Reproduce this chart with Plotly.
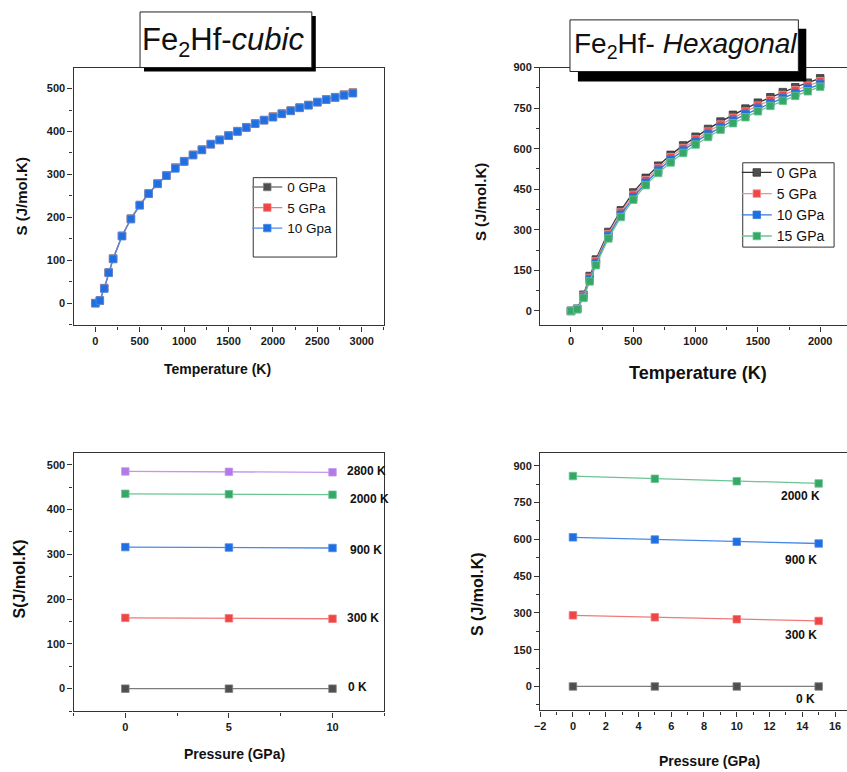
import plotly.graph_objects as go

W, H = 847, 772

# ---------------- data ----------------
T_cubic = [0, 50, 100, 150, 200, 300, 400, 500, 600, 700, 800, 900, 1000, 1100, 1200, 1300,
           1400, 1500, 1600, 1700, 1800, 1900, 2000, 2100, 2200, 2300, 2400, 2500, 2600, 2700, 2800, 2900]
S_cubic_0 = [0, 6, 35, 72, 104, 157, 197, 229, 256, 279, 298, 316, 331, 346, 358, 371,
             381, 391, 401, 410, 419, 427, 435, 442, 449, 456, 462, 469, 475, 480, 486, 491]
S_cubic_5 = [0, 6, 35, 71, 103, 157, 196, 228, 255, 278, 297, 315, 330, 345, 357, 370,
             380, 390, 400, 409, 418, 426, 434, 441, 448, 455, 461, 468, 474, 479, 485, 490]
S_cubic_10 = [0, 6, 34, 71, 103, 156, 196, 228, 255, 278, 297, 314, 330, 345, 357, 370,
              380, 390, 400, 409, 418, 426, 433, 441, 448, 455, 461, 468, 474, 479, 484, 489]
cubic_labels = ["0 GPa", "5 GPa", "10 Gpa"]

T_hex = [0, 50, 100, 150, 200, 300, 400, 500, 600, 700, 800, 900, 1000, 1100, 1200, 1300,
         1400, 1500, 1600, 1700, 1800, 1900, 2000]
S_hex_0 = [0, 8, 60, 129, 190, 292, 372, 438, 492, 537, 577, 612, 644, 673, 700, 725,
           748, 770, 790, 809, 827, 844, 860]
S_hex_5 = [0, 7, 56, 122, 183, 284, 364, 429, 483, 528, 568, 602, 634, 663, 689, 714,
           737, 759, 779, 798, 816, 833, 849]
S_hex_10 = [0, 7, 52, 116, 176, 276, 356, 420, 474, 519, 559, 593, 625, 653, 680, 704,
            727, 748, 768, 787, 805, 822, 838]
S_hex_15 = [0, 6, 48, 109, 169, 268, 347, 411, 465, 510, 549, 584, 615, 643, 670, 694,
            716, 738, 758, 777, 795, 812, 829]
hex_labels = ["0 GPa", "5 GPa", "10 GPa", "15 GPa"]

P_cubic = [0, 5, 10]
S_cub_0K = [0, 0, 0]
S_cub_300K = [158, 157, 156]
S_cub_900K = [316, 315, 314]
S_cub_2000K = [435, 434, 433]
S_cub_2800K = [485, 484, 483]
cub_T_labels = ["0 K", "300 K", "900 K", "2000 K", "2800 K"]

P_hex = [0, 5, 10, 15]
S_hex_0K = [0, 0, 0, 0]
S_hex_300K = [290, 282, 274, 267]
S_hex_900K = [608, 599, 590, 583]
S_hex_2000K = [858, 847, 837, 828]
hex_T_labels = ["0 K", "300 K", "900 K", "2000 K"]

# ---------------- styles ----------------
GRAY = ("#4f4f4f", "#7d7d7d")
RED = ("#f04545", "#f07878")
BLUE = ("#1f6fe0", "#4a8ae6")
GREEN = ("#36a866", "#6cc494")
PURPLE = ("#b27ae6", "#c496ee")

FONT = "Liberation Sans, Arial, sans-serif"


def px(x):
    return x / W


def py(y):
    return 1 - y / H


def trace(x, y, col, name, xa, ya, legend=None, show=False, lcol=None):
    mc, lc = col
    if lcol:
        lc = lcol
    return go.Scatter(
        x=x, y=y, name=name, mode="lines+markers",
        line=dict(color=lc, width=1.3),
        marker=dict(symbol="square", size=7.5, color=mc, line=dict(color=lc, width=0.8)),
        xaxis=xa, yaxis=ya, showlegend=show, legend=legend,
    )


fig = go.Figure()
# top-left cubic
for s, c, n in zip([S_cubic_0, S_cubic_5, S_cubic_10], [GRAY, RED, BLUE], cubic_labels):
    fig.add_trace(trace(T_cubic, s, c, n, "x", "y", legend="legend", show=True))
# top-right hexagonal
for s, c, n, lc in zip([S_hex_0, S_hex_5, S_hex_10, S_hex_15], [GRAY, RED, BLUE, GREEN], hex_labels,
                       ["#333333", "#f29090", "#2f78e0", "#6cc494"]):
    fig.add_trace(trace(T_hex, s, c, n, "x2", "y2", legend="legend2", show=True, lcol=lc))
# bottom-left
for s, c, n in zip([S_cub_0K, S_cub_300K, S_cub_900K, S_cub_2000K, S_cub_2800K],
                   [GRAY, RED, BLUE, GREEN, PURPLE], cub_T_labels):
    fig.add_trace(trace(P_cubic, s, c, n, "x3", "y3"))
# bottom-right
for s, c, n in zip([S_hex_0K, S_hex_300K, S_hex_900K, S_hex_2000K], [GRAY, RED, BLUE, GREEN], hex_T_labels):
    fig.add_trace(trace(P_hex, s, c, n, "x4", "y4"))

tickfont = dict(family=FONT, size=11, color="#1a1a1a", weight="bold")


def axis(domain, rng, dtick, mdtick, anchor, mirror=True):
    return dict(
        domain=domain, range=rng, dtick=dtick, tick0=0, anchor=anchor,
        showline=True, mirror=mirror, linecolor="#333333", linewidth=1.3,
        ticks="outside", ticklen=5, tickwidth=1, tickcolor="#333333",
        minor=dict(dtick=mdtick, tick0=0, ticks="outside", ticklen=3, tickcolor="#333333"),
        showgrid=False, zeroline=False, tickfont=tickfont, fixedrange=True,
    )


xL = [px(68), px(381)]
xR = [px(538), 1.0]
yT = [py(322), py(62)]
yB1 = [py(711), py(451)]
yB2 = [py(710), py(451)]

fig.update_layout(
    width=W, height=H, margin=dict(l=0, r=0, t=0, b=0),
    paper_bgcolor="white", plot_bgcolor="white",
    xaxis=axis(xL, [-246, 3254], 500, 250, "y"),
    yaxis=axis(yT, [-52, 549], 100, 50, "x"),
    xaxis2=axis(xR, [-247, 2215], 500, 250, "y2"),
    yaxis2=axis(yT, [-54, 900], 150, 75, "x2", mirror=False),
    xaxis3=axis(xL, [-2.5, 12.5], 5, 2.5, "y3"),
    yaxis3=axis(yB1, [-51, 525], 100, 50, "x3"),
    xaxis4=axis(xR, [-2, 16.73], 2, 1, "y4"),
    yaxis4=axis(yB2, [-98, 950], 150, 75, "x4", mirror=False),
    legend=dict(x=px(243), y=py(167), xanchor="left", yanchor="top",
                bgcolor="rgba(0,0,0,0)", borderwidth=0,
                font=dict(family=FONT, size=13.5, color="#111"), itemwidth=30,
                tracegroupgap=0),
    legend2=dict(x=px(736), y=py(152), xanchor="left", yanchor="top",
                 bgcolor="rgba(0,0,0,0)", borderwidth=0,
                 font=dict(family=FONT, size=14, color="#111"), itemwidth=30,
                 tracegroupgap=0),
    showlegend=True,
)

# title boxes (shadow + box) and legend frames
shapes = [
    dict(type="rect", xref="paper", yref="paper", x0=px(139), x1=px(312), y0=py(66), y1=py(10),
         fillcolor="black", line=dict(width=0)),
    dict(type="rect", xref="paper", yref="paper", x0=px(135), x1=px(308), y0=py(62), y1=py(6),
         fillcolor="white", line=dict(color="#222", width=1)),
    dict(type="rect", xref="paper", yref="paper", x0=px(576), x1=px(806), y0=py(76), y1=py(23),
         fillcolor="black", line=dict(width=0)),
    dict(type="rect", xref="paper", yref="paper", x0=px(568), x1=px(798), y0=py(66), y1=py(14),
         fillcolor="white", line=dict(color="#222", width=1)),
    dict(type="rect", xref="paper", yref="paper", x0=px(249), x1=px(333), y0=py(253), y1=py(173),
         fillcolor="white", line=dict(color="#333", width=1)),
    dict(type="rect", xref="paper", yref="paper", x0=px(742), x1=px(834), y0=py(243), y1=py(158),
         fillcolor="white", line=dict(color="#333", width=1)),
]
fig.update_layout(shapes=shapes)

ann = []


def pa(text, x, y, size, bold=True, angle=0, xanchor="center"):
    ann.append(dict(text=text, xref="paper", yref="paper", x=px(x), y=py(y), showarrow=False,
                    xanchor=xanchor, yanchor="middle", textangle=angle,
                    font=dict(family=FONT, size=size, color="#111", weight="bold" if bold else "normal")))


pa("Fe<sub>2</sub>Hf-<i>cubic</i>", 219, 36, 31, bold=False)
pa("Fe<sub>2</sub>Hf- <i>Hexagonal</i>", 684, 40, 28, bold=False)

pa("Temperature (K)", 213, 366, 14)
pa("Temperature (K)", 697, 370, 18)
pa("Pressure (GPa)", 230, 754, 14)
pa("Pressure (GPa)", 709, 761, 14)
pa("S (J/mol.K)", 16, 192, 15, angle=-90)
pa("S (J/mol.K)", 478, 198, 15, angle=-90)
pa("S(J/mol.K)", 14, 577, 16, angle=-90)
pa("S (J/mol.K)", 475, 593, 16, angle=-90)

# curve labels in the bottom panels
bl_pos = [(10.67, 4), (10.62, 157), (10.77, 310), (10.77, 423), (10.62, 485)]
for lab, (xx, yy) in zip(cub_T_labels, bl_pos):
    ann.append(dict(text=lab, x=xx, y=yy, xref="x3", yref="y3", showarrow=False,
                    xanchor="left", yanchor="middle",
                    font=dict(family=FONT, size=12, color="#111", weight="bold")))
br_pos = [(13.5, -50), (12.85, 209), (12.8, 517), (12.55, 776)]
for lab, (xx, yy) in zip(hex_T_labels, br_pos):
    ann.append(dict(text=lab, x=xx, y=yy, xref="x4", yref="y4", showarrow=False,
                    xanchor="left", yanchor="middle",
                    font=dict(family=FONT, size=12, color="#111", weight="bold")))

fig.update_layout(annotations=ann)

fig.write_html("out.html", config={"displayModeBar": False},
               post_script="document.body.style.margin='0';document.body.style.overflow='hidden';")
